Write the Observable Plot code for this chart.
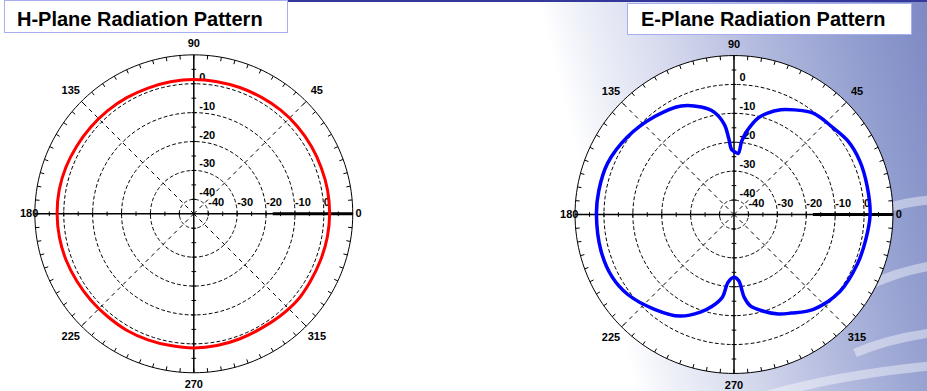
<!DOCTYPE html>
<html>
<head>
<meta charset="utf-8">
<script src="https://cdn.jsdelivr.net/npm/d3@7"></script>
<script src="https://cdn.jsdelivr.net/npm/@observablehq/plot@0.6"></script>
<style>
html,body{margin:0;padding:0;}
body{width:927px;height:391px;position:relative;overflow:hidden;font-family:"Liberation Sans",Arial,sans-serif;
  background:linear-gradient(76deg,#ffffff 0%,#ffffff 62%,#eef0f8 66%,#d3d7ec 74%,#b0b8dd 83%,#929ecf 92%,#7c89c4 100%);}
#topline{position:absolute;left:287px;top:0;width:640px;height:2px;background:#34389a;}
#deco{position:absolute;left:0;top:0;}
.box{position:absolute;background:#fff;border:1.5px solid #a6aeef;box-sizing:border-box;}
.ttl{position:absolute;font-size:20px;line-height:20px;font-weight:bold;color:#000;white-space:nowrap;}
.plot{position:absolute;top:34px;}
</style>
</head>
<body>
<div id="topline"></div>
<svg id="deco" width="927" height="391">
  <g fill="none" stroke="#ffffff" stroke-opacity="0.42" stroke-width="9">
    <path d="M888 208 Q906 202 930 200"/>
    <path d="M872 284 Q897 272 930 266"/>
    <path d="M855 353 Q887 339 930 333"/>
    <path d="M758 398 Q830 376 930 366"/>
  </g>
</svg>
<div class="box" style="left:4px;top:0px;width:284px;height:33px;"></div>
<div class="ttl" style="left:17px;top:8.7px;">H-Plane Radiation Pattern</div>
<div class="box" style="left:627px;top:3px;width:285px;height:31.5px;"></div>
<div class="ttl" style="left:641px;top:8.7px;">E-Plane Radiation Pattern</div>
<div id="p1" class="plot" style="left:0px;"></div>
<div id="p2" class="plot" style="left:527px;"></div>
<script>
// ---- data ----
const hAngles = [0,10,20,30,40,50,60,70,80,90,100,110,120,130,140,150,160,170,180,190,200,210,220,230,240,250,260,270,280,290,300,310,320,330,340,350];
const hGain   = [2.0,2.0,1.9,1.9,1.9,1.8,1.6,1.5,1.4,1.5,1.4,1.3,1.4,1.5,1.6,1.8,2.1,2.3,2.3,2.2,2.0,1.7,1.5,1.4,1.5,1.4,1.3,1.4,1.3,1.1,1.0,1.3,1.7,1.6,1.7,1.9];

const eAngles = [0,12,23,33,41,52,60,66,72,76,81,84,86,89,92,94,96,101,107,116,129,144,158,170,180,195,207,217,230,242,251,257,262,265,270,274,277,280,287,294,300,310,324,338,349];
const eGain   = [2.1,2.1,2.3,1.9,0.6,-0.5,-3.2,-5.3,-8.2,-10.6,-15.6,-19.5,-23.8,-23.4,-22.6,-18.5,-13.8,-8.9,-6.1,-3.2,-1.4,0.6,2.2,2.5,2.6,2.7,2.4,1.0,-2.2,-5.2,-9.3,-12.6,-16.1,-21.5,-23.3,-22.1,-16.2,-13.0,-10.0,-7.3,-5.6,-2.2,0.3,1.0,1.4];

const ringLevels = [-40,-30,-20,-10,0];          // dB
const ringLabels = ["-40","-30","-20","-10","0"];
const angleTicks = [0,45,90,135,180,225,270,315];
const angleLabels = ["0","45","90","135","180","225","270","315"];
const dbMin = -45, dbMax = 10;                   // centre and outer circle

// ---- drawing ----
const K = 2.89; // px per dB
const rOf = db => db - dbMin;
const RO = rOf(dbMax);
const px = (a, r) => r * Math.cos(a * Math.PI / 180);
const py = (a, r) => r * Math.sin(a * Math.PI / 180);
const font = {fontFamily: "Liberation Sans, Arial, sans-serif", fontSize: 11, fontWeight: "bold", fill: "black"};

function polar(cx, cy, W, H, angles, gains, color, width, disk) {
  const curve = angles.map((a, i) => ({a, g: gains[i]}));
  const circ = [];
  for (let a = 0; a <= 360; a += 2) circ.push(a);
  const rings = ringLevels.flatMap(l => circ.map(a => ({l, a})));
  const outer = circ.map(a => ({a}));
  const oTicks = d3.range(0, 360, 5);
  const axisDirs = [0, 90, 180, 270];
  const aTicks = axisDirs.flatMap(dir => d3.range(5, RO, 5).map(r => ({dir, r})));
  const marks = [];
  if (disk) marks.push(Plot.line(outer, {x: d => px(d.a, RO), y: d => py(d.a, RO), fill: "white", stroke: "none"}));
  marks.push(
    Plot.line(rings, {x: d => px(d.a, rOf(d.l)), y: d => py(d.a, rOf(d.l)), z: "l", stroke: "black", strokeWidth: 1, strokeDasharray: "3,3"}),
    Plot.link([45, 135, 225, 315], {x1: 0, y1: 0, x2: a => px(a, RO), y2: a => py(a, RO), stroke: "black", strokeWidth: 1, strokeDasharray: "4,4"}),
    Plot.line(outer, {x: d => px(d.a, RO), y: d => py(d.a, RO), stroke: "black", strokeWidth: 1}),
    Plot.link(oTicks, {x1: a => px(a, RO), y1: a => py(a, RO), x2: a => px(a, RO - 1.4), y2: a => py(a, RO - 1.4), stroke: "black", strokeWidth: 1}),
    Plot.link([0, 90], {x1: a => px(a, RO), y1: a => py(a, RO), x2: a => px(a + 180, RO), y2: a => py(a + 180, RO), stroke: "black", strokeWidth: 1.5}),
    Plot.link(aTicks, {
      x1: d => px(d.dir, d.r) + px(d.dir + 90, 0.8), y1: d => py(d.dir, d.r) + py(d.dir + 90, 0.8),
      x2: d => px(d.dir, d.r) - px(d.dir + 90, 0.8), y2: d => py(d.dir, d.r) - py(d.dir + 90, 0.8),
      stroke: "black", strokeWidth: 1}),
    Plot.link([0], {x1: 27.3, y1: 0, x2: RO, y2: 0, stroke: "black", strokeWidth: 3}),
    Plot.text(ringLevels, {x: 0, y: l => rOf(l), text: (l, i) => ringLabels[i], textAnchor: "start", dx: 5.5, dy: -6.5, ...font}),
    Plot.text(ringLevels, {x: l => rOf(l), y: 0, text: (l, i) => ringLabels[i], textAnchor: "start", dx: 0, dy: -11.5, ...font}),
    Plot.text(angleTicks, {
      x: a => px(a, a % 90 ? 60.2 : (a % 180 ? 59 : 57)),
      y: a => py(a, a % 90 ? 60.2 : (a % 180 ? 59 : 57)),
      text: (a, i) => angleLabels[i],
      textAnchor: a => a === 0 ? "start" : a === 180 ? "end" : "middle",
      ...font}),
    Plot.line(curve, {x: d => px(d.a, rOf(d.g)), y: d => py(d.a, rOf(d.g)), stroke: color, strokeWidth: width, curve: "catmull-rom-closed"})
  );
  return Plot.plot({
    width: W, height: H, margin: 0,
    style: {background: "transparent", overflow: "visible"},
    x: {type: "linear", domain: [-cx / K, (W - cx) / K], range: [0, W], axis: null},
    y: {type: "linear", domain: [-(H - cy) / K, cy / K], range: [H, 0], axis: null},
    marks
  });
}

document.getElementById("p1").append(polar(193.3, 179.3, 400, 357, hAngles, hGain, "#ff0000", 3, false));
document.getElementById("p2").append(polar(206.5, 180, 400, 357, eAngles, eGain, "#0000ff", 3.5, true));
</script>
</body>
</html>
